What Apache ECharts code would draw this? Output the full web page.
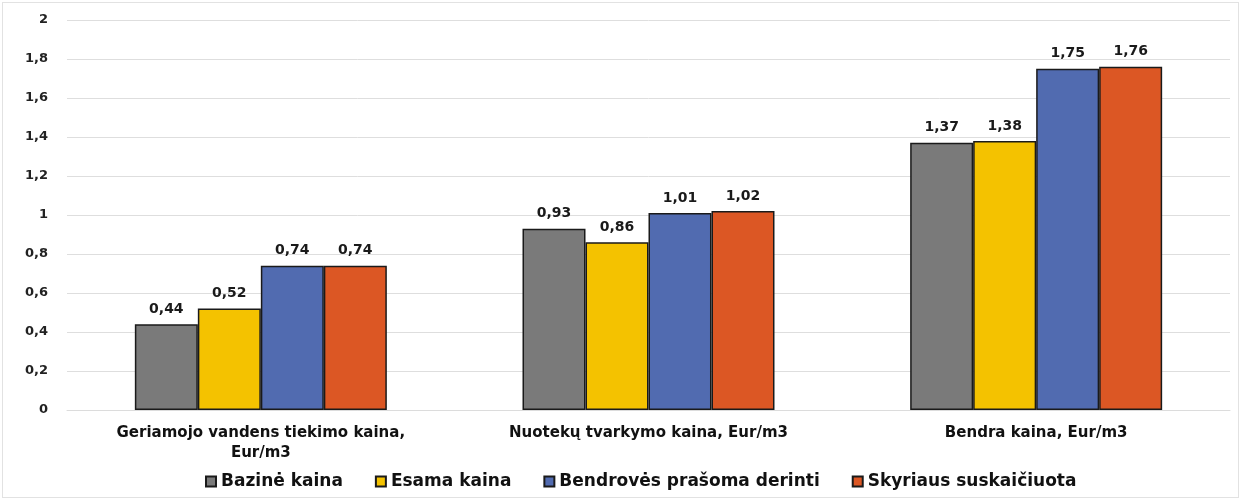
<!DOCTYPE html>
<html>
<head>
<meta charset="utf-8">
<script src="https://cdn.jsdelivr.net/npm/echarts@6/dist/echarts.min.js"></script>
<style>
  html, body { margin: 0; padding: 0; background: #fff; }
  #frame { position: absolute; left: 2px; top: 2px; width: 1235px; height: 494px; border: 1px solid #e2e2e2; }
  #chart { width: 1241px; height: 499px; }
</style>
</head>
<body>
<div id="frame"></div>
<div id="chart"></div>
<script>
const categories = [
  "Geriamojo vandens tiekimo kaina,\nEur/m3",
  "Nuotekų tvarkymo kaina, Eur/m3",
  "Bendra kaina, Eur/m3",
];
const seriesNames = [
  "Bazinė kaina",
  "Esama kaina",
  "Bendrovės prašoma derinti",
  "Skyriaus suskaičiuota",
];
const bazine = [0.44, 0.93, 1.37];
const esama = [0.52, 0.86, 1.38];
const bendroves = [0.74, 1.01, 1.75];
const skyriaus = [0.74, 1.02, 1.76];
const colors = ["#7a7a7a", "#f4c200", "#516bb0", "#dc5724"];

const fontFamily = "'DejaVu Sans', Verdana, sans-serif";
const values = [bazine, esama, bendroves, skyriaus];

const chart = echarts.init(document.getElementById("chart"));
chart.setOption({
  animation: false,
  color: colors,
  grid: { left: 67, right: 11, top: 20, bottom: 89 },
  legend: {
    bottom: 4,
    left: 200,
    itemWidth: 10,
    itemHeight: 10,
    itemGap: 32,
    icon: "rect",
    textStyle: { fontFamily, fontSize: 17, color: "#111", fontWeight: "bold" },
    data: seriesNames,
  },
  xAxis: {
    type: "category",
    data: categories,
    axisLine: { show: true, lineStyle: { color: "#dcdcdc", width: 1 } },
    axisTick: { show: false },
    axisLabel: {
      fontFamily,
      fontSize: 15,
      color: "#111",
      fontWeight: "bold",
      lineHeight: 20,
      margin: 13,
      interval: 0,
    },
  },
  yAxis: {
    type: "value",
    min: 0,
    max: 2,
    interval: 0.2,
    axisLine: { show: false },
    axisTick: { show: false },
    splitLine: { lineStyle: { color: "#dedede", width: 1 } },
    axisLabel: {
      fontFamily,
      fontSize: 13,
      color: "#222",
      fontWeight: "bold",
      margin: 19,
      formatter: (v) => String(+v.toFixed(1)).replace(".", ","),
    },
  },
  series: seriesNames.map((name, i) => ({
    name,
    type: "bar",
    data: values[i],
    barGap: 0,
    barCategoryGap: "35%",
    itemStyle: { color: colors[i], borderColor: "#1a1a1a", borderWidth: 1.5 },
    label: {
      show: true,
      position: "top",
      distance: 8,
      fontFamily,
      fontSize: 14,
      fontWeight: "bold",
      color: "#1a1a1a",
      formatter: (p) => p.value.toFixed(2).replace(".", ","),
    },
  })),
});
</script>
</body>
</html>
